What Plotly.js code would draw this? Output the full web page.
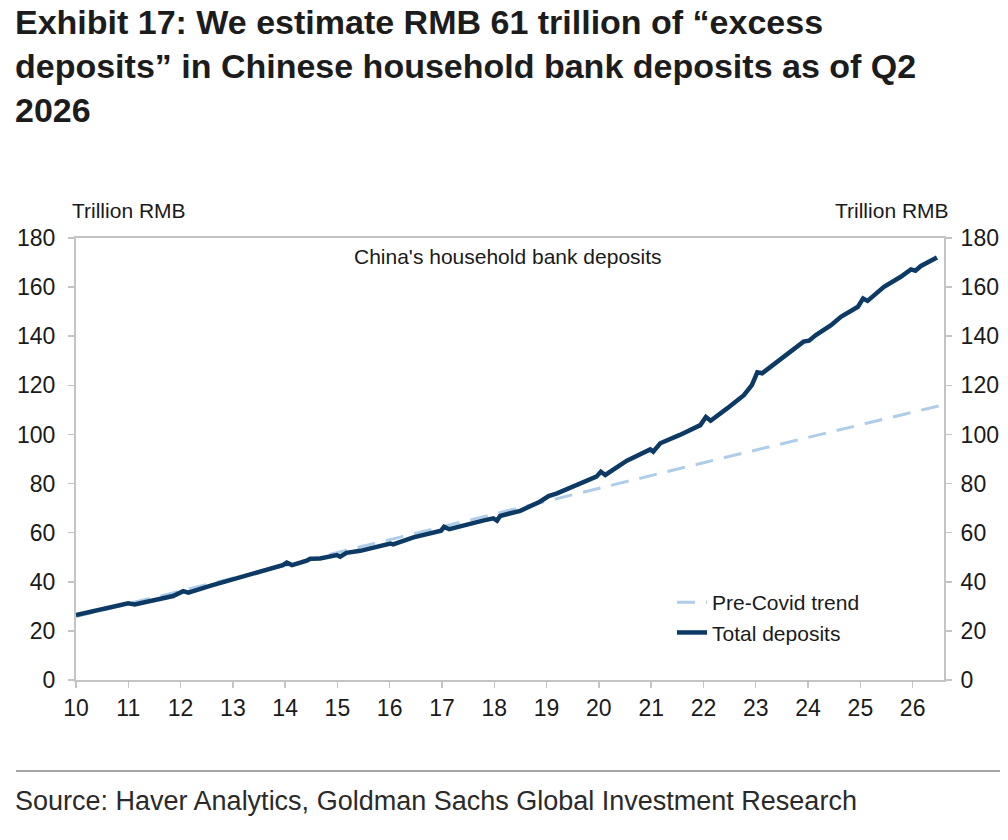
<!DOCTYPE html>
<html>
<head>
<meta charset="utf-8">
<script src="https://cdn.plot.ly/plotly-3.0.1.min.js"></script>
<style>
  html, body { margin: 0; padding: 0; background: #ffffff; }
  #chart { width: 1008px; height: 840px; }
</style>
</head>
<body>
<div id="chart"></div>
<script>
// China household bank deposits, trillion RMB
const depositDates = [
  '2010-01-01','2010-05-01','2010-08-25','2011-01-01','2011-02-15','2011-06-25','2011-11-10',
  '2012-01-20','2012-02-25','2012-07-25','2013-01-05','2013-07-08','2013-12-15',
  '2014-01-12','2014-02-18','2014-06-01','2014-06-25','2014-09-01','2014-12-28',
  '2015-01-20','2015-03-05','2015-06-10','2015-10-05','2016-01-05','2016-01-25',
  '2016-06-15','2016-12-25','2017-01-15','2017-02-20','2017-07-15','2017-10-20',
  '2017-12-25','2018-01-20','2018-02-10','2018-07-01','2018-11-15','2019-01-15',
  '2019-03-15','2019-07-30','2019-12-15','2020-01-15','2020-02-15','2020-07-15',
  '2020-12-25','2021-01-15','2021-03-05','2021-07-20','2021-12-10','2022-01-18',
  '2022-02-20','2022-06-15','2022-10-10','2022-12-05','2023-01-12','2023-02-15',
  '2023-05-30','2023-09-25','2023-12-01','2024-01-08','2024-02-25','2024-06-10',
  '2024-08-18','2024-12-15','2025-01-20','2025-02-20','2025-06-15','2025-10-10',
  '2025-12-20','2026-01-20','2026-02-28','2026-06-20'
];
const totalDeposits = [
  26.5, 28.1, 29.9, 31.2, 30.8, 32.6, 34.2,
  36.2, 35.6, 38.3, 41.0, 44.5, 46.8,
  47.8, 46.8, 48.6, 49.4, 49.5, 50.9,
  50.2, 51.8, 52.6, 54.3, 55.6, 55.2,
  58.1, 60.8, 62.4, 61.4, 63.8, 65.0,
  65.8, 64.9, 66.8, 68.9, 72.6, 74.9,
  76.0, 79.4, 82.8, 84.8, 83.5, 89.3,
  93.9, 93.0, 96.4, 99.8, 103.8, 107.1,
  105.6, 110.6, 116.0, 120.1, 125.3, 124.9,
  129.6, 135.0, 137.8, 138.2, 140.5, 144.5,
  147.9, 152.0, 155.4, 154.4, 160.1, 164.2,
  167.2, 166.7, 168.6, 172.1
];

// Pre-Covid linear trend, extended to mid-2026
const trendDates = ['2010-01-01', '2014-01-01', '2018-01-01', '2022-01-01', '2026-07-01'];
const trendValues = [25.8, 46.7, 67.6, 88.5, 111.6];

const yTicks = [0, 20, 40, 60, 80, 100, 120, 140, 160, 180];

const FONT = '"Liberation Sans", Arial, sans-serif';
const AXIS_GREY = '#c4c4c4';
const TEXT = '#1a1a1a';
const TICK_SIZE = 23;
const LABEL_SIZE = 21;

const traces = [
  {
    x: trendDates, y: trendValues, type: 'scatter', mode: 'lines',
    name: 'Pre-Covid trend', legendgroup: 'a',
    line: { color: '#aecde8', width: 3, dash: '18px,11px' },
    hoverinfo: 'skip'
  },
  {
    x: depositDates, y: totalDeposits, type: 'scatter', mode: 'lines',
    name: 'Total deposits', legendgroup: 'b',
    line: { color: '#0c3a64', width: 4.5 },
    hoverinfo: 'skip'
  }
];

const W = 1008, H = 840;
const L = 76, R = 944, T = 238, B = 680;
const px = v => (v - L) / (R - L);
const py = v => (B - v) / (B - T);

const layout = {
  width: W, height: H,
  margin: { l: L, r: W - R, t: T, b: H - B, pad: 0 },
  paper_bgcolor: '#ffffff', plot_bgcolor: '#ffffff',
  font: { family: FONT, size: LABEL_SIZE, color: TEXT },
  showlegend: true,
  title: {
    text: 'Exhibit 17: We estimate RMB 61 trillion of “excess<br>deposits” in Chinese household bank deposits as of Q2<br>2026',
    font: { family: FONT, size: 34, weight: 700, color: '#1c1c1c' },
    xref: 'container', yref: 'container',
    x: 15 / W, xanchor: 'left',
    y: 1 - 34 / H, yanchor: 'top'
  },
  xaxis: {
    type: 'date',
    range: ['2010-01-01', '2026-08-08'],
    tickformat: '%y', tick0: '2010-01-01', dtick: 'M12',
    ticks: 'outside', ticklen: 6, tickwidth: 1.5, tickcolor: AXIS_GREY,
    showline: true, linecolor: AXIS_GREY, linewidth: 2, mirror: true,
    showgrid: false, zeroline: false,
    tickfont: { family: FONT, size: TICK_SIZE, color: TEXT }
  },
  yaxis: {
    range: [0, 180], tickvals: yTicks,
    ticks: 'outside', ticklen: 6, tickwidth: 1.5, tickcolor: AXIS_GREY,
    showline: true, linecolor: AXIS_GREY, linewidth: 2,
    showgrid: false, zeroline: false, ticklabelstandoff: 8,
    tickfont: { family: FONT, size: TICK_SIZE, color: TEXT }
  },
  yaxis2: {
    overlaying: 'y', side: 'right', anchor: 'x',
    range: [0, 180], tickvals: yTicks,
    ticks: 'outside', ticklen: 6, tickwidth: 1.5, tickcolor: AXIS_GREY,
    showline: true, linecolor: AXIS_GREY, linewidth: 2,
    showgrid: false, zeroline: false, ticklabelstandoff: 4,
    tickfont: { family: FONT, size: TICK_SIZE, color: TEXT }
  },
  legend: {
    x: px(672), xanchor: 'left',
    y: py(582), yanchor: 'top',
    bgcolor: 'rgba(0,0,0,0)',
    font: { family: FONT, size: LABEL_SIZE, color: TEXT },
    tracegroupgap: 11, traceorder: 'normal'
  },
  annotations: [
    { xref: 'paper', yref: 'paper', x: px(70), y: py(210), xanchor: 'left', yanchor: 'middle',
      text: 'Trillion RMB', showarrow: false, font: { family: FONT, size: LABEL_SIZE, color: TEXT } },
    { xref: 'paper', yref: 'paper', x: px(951), y: py(210), xanchor: 'right', yanchor: 'middle',
      text: 'Trillion RMB', showarrow: false, font: { family: FONT, size: LABEL_SIZE, color: TEXT } },
    { xref: 'paper', yref: 'paper', x: px(508), y: py(256), xanchor: 'center', yanchor: 'middle',
      text: 'China\'s household bank deposits', showarrow: false, font: { family: FONT, size: LABEL_SIZE, color: TEXT } },
    { xref: 'paper', yref: 'paper', x: px(13), y: py(801), xanchor: 'left', yanchor: 'middle',
      text: 'Source: Haver Analytics, Goldman Sachs Global Investment Research', showarrow: false,
      font: { family: FONT, size: 27, color: '#2a2a2a' } }
  ],
  shapes: [
    { type: 'line', xref: 'paper', yref: 'paper', x0: px(16), x1: px(1000), y0: py(771), y1: py(771),
      line: { color: '#a6a6a6', width: 2 } }
  ]
};

// an invisible companion trace keeps the right-hand axis attached to the plot
traces.push({ x: [depositDates[0]], y: [totalDeposits[0]], yaxis: 'y2', type: 'scatter', mode: 'markers',
  marker: { opacity: 0 }, showlegend: false, hoverinfo: 'skip' });

Plotly.newPlot('chart', traces, layout, { staticPlot: true, displayModeBar: false });
</script>
</body>
</html>
